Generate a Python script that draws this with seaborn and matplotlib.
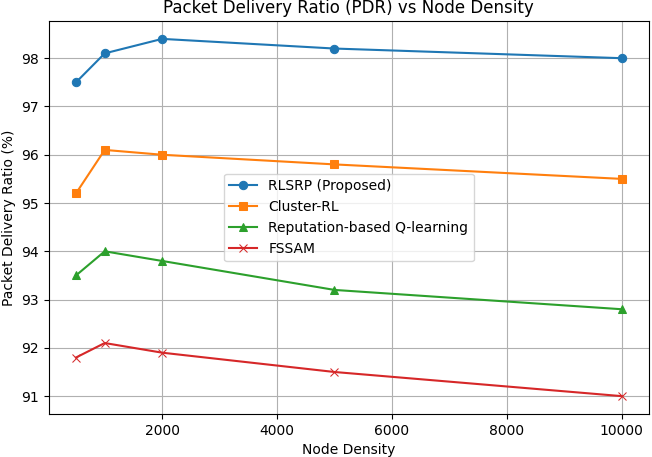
import pandas as pd
import matplotlib.pyplot as plt
import seaborn as sns

# ----------- DATA ------------
node_density = [500, 1000, 2000, 5000, 10000]
rlsrp = [97.5, 98.1, 98.4, 98.2, 98.0]
cluster_rl = [95.2, 96.1, 96.0, 95.8, 95.5]
reputation_q = [93.5, 94.0, 93.8, 93.2, 92.8]
fssam = [91.8, 92.1, 91.9, 91.5, 91.0]

series = {
    'RLSRP (Proposed)': rlsrp,
    'Cluster-RL': cluster_rl,
    'Reputation-based Q-learning': reputation_q,
    'FSSAM': fssam,
}
markers = ['o', 's', '^', 'x']
colors = sns.color_palette('tab10', 4)

# ----------- PLOT ------------
fig = plt.figure(figsize=(6.52, 4.57), dpi=100)
ax = fig.add_axes([0.0747, 0.0941, 0.9207, 0.8599])

for (name, vals), m, c in zip(series.items(), markers, colors):
    sns.lineplot(x=node_density, y=vals, label=name, marker=m, color=c,
                 markersize=6, linewidth=1.5, ax=ax,
                 markeredgecolor=c)

ax.set_title("Packet Delivery Ratio (PDR) vs Node Density")
ax.set_xlabel("Node Density")
ax.set_ylabel("Packet Delivery Ratio (%)")
ax.grid(True)
ax.legend(loc='center')

fig.savefig("out.png", dpi=100)
